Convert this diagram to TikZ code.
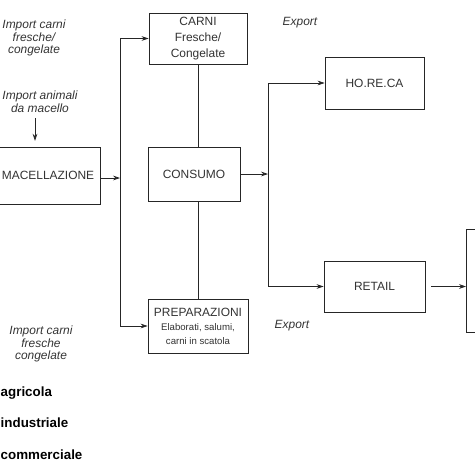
\documentclass[tikz,border=0pt]{standalone}
\usepackage{fontspec}
\setmainfont{Liberation Sans}
\usetikzlibrary{arrows.meta,positioning,shadows}

\newcommand{\smalltxt}{\fontsize{8.2}{10}\selectfont}

\begin{document}
\begin{tikzpicture}[x=0.03cm, y=-0.03cm,
    box/.style={draw=black!85, line width=0.6pt, fill=white, align=center, inner sep=0pt,
        font=\fontsize{10.2}{12}\selectfont, text=black!80},
    shadowbox/.style={box, drop shadow={shadow xshift=0.8pt, shadow yshift=-0.8pt, opacity=0.35, fill=black}},
    note/.style={align=center, font=\fontsize{10.2}{11}\selectfont\itshape, text=black!80},
    phase/.style={anchor=west, inner sep=0pt, font=\fontsize{11.4}{13}\selectfont\bfseries},
    arr/.style={-{Stealth[length=6pt,width=4pt]}, line width=0.6pt, draw=black!85}]

    \useasboundingbox (0,0) rectangle (474,474);

    % Boxes
    \node[box, minimum width=3.12cm, minimum height=1.71cm] (mac) at (48,175.5) {MACELLAZIONE};
    \node[box, minimum width=2.94cm, minimum height=1.53cm] (carni) at (198,38.5) {CARNI\\[2pt]Fresche/\\[2pt]Congelate};
    \node[box, minimum width=2.76cm, minimum height=1.62cm] (consumo) at (194,174) {CONSUMO};
    \node[box, minimum width=3cm, minimum height=1.62cm] (prep) at (198,326)
        {PREPARAZIONI\\\smalltxt Elaborati, salumi,\\\smalltxt carni in scatola};
    \node[shadowbox, minimum width=2.97cm, minimum height=1.56cm] (horeca) at (374.5,83) {HO.RE.CA};
    \node[shadowbox, minimum width=3.03cm, minimum height=1.53cm] (retail) at (374.5,286.5) {RETAIL};
    \node[box, anchor=west, minimum width=2cm, minimum height=3.09cm] (dist) at (466,280.5) {};

    % Branch points
    \coordinate (jl) at (120,178);
    \coordinate (jr) at (268,178);

    % Notes
    \node[note] (impTop) at (34,38) {Import carni\\fresche/\\congelate};
    \node[note] (impAnim) at (40,102) {Import animali\\da macello};
    \node[note] (impBot) at (41,344) {Import carni\\fresche\\congelate};
    \node[note] (expTop) at (300,23) {Export};
    \node[note] (expBot) at (292,326) {Export};

    % Phases
    \node[phase] (agr) at (0.5,393) {agricola};
    \node[phase] (ind) at (0.5,423) {industriale};
    \node[phase] (com) at (0.5,455) {commerciale};

    % Flows
    \draw[arr, shorten <=1pt, shorten >=5pt] ([xshift=-0.15cm]impAnim.south) -- ([xshift=-0.15cm]impAnim.south |- mac.north);
    \draw[arr] (mac.east |- jl) -- (jl);
    \draw[arr] (jl) |- (carni.west);
    \draw[arr] (jl) |- (prep.west);
    \draw[line width=0.6pt, draw=black!85] (carni.south) -- (carni.south |- consumo.north);
    \draw[line width=0.6pt, draw=black!85] (prep.north |- consumo.south) -- (prep.north);
    \draw[arr] (consumo.east) -- (consumo.east -| jr);
    \draw[arr] (jr) |- (horeca.west);
    \draw[arr] (jr) |- (retail.west);
    \draw[arr, shorten <=5pt] (retail.east) -- (dist.west |- retail.east);
\end{tikzpicture}
\end{document}
